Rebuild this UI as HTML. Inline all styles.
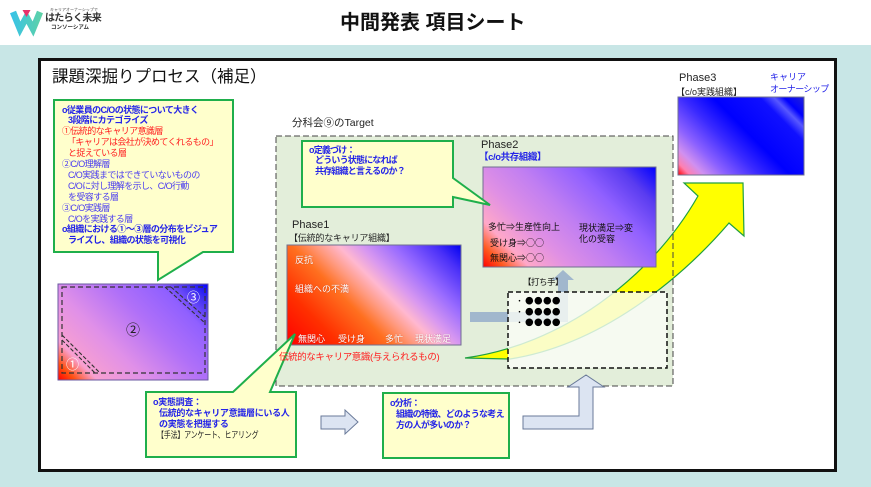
<!DOCTYPE html>
<html><head><meta charset="utf-8">
<style>
*{margin:0;padding:0;box-sizing:border-box}
html,body{width:871px;height:487px;overflow:hidden;background:#fff}
body{position:relative;font-family:"Liberation Sans","Noto Sans CJK JP",sans-serif;color:#1a1a1a}
.t{position:absolute;white-space:nowrap;line-height:1}
.b{color:#2424e8;font-weight:bold}
.r{color:#ff2020}
.p{color:#4a3cf0}
.w{color:#fff;text-shadow:0 0 1px rgba(120,0,0,.5)}
.c{font-family:"Noto Sans CJK JP",sans-serif}
</style></head><body>
<div style="position:absolute;left:0;top:45px;width:871px;height:442px;background:#c8e6e6"></div>
<div style="position:absolute;left:38px;top:58px;width:799px;height:414px;background:#fff;border:3px solid #111"></div>

<svg width="871" height="487" style="position:absolute;left:0;top:0">
<defs>
 <linearGradient id="lg" gradientUnits="userSpaceOnUse" x1="10" y1="0" x2="43" y2="0">
  <stop offset="0" stop-color="#36c2ea"/><stop offset="1" stop-color="#5fd2a4"/>
 </linearGradient>
 <linearGradient id="g1" gradientUnits="userSpaceOnUse" x1="305.5" y1="363.5" x2="442.5" y2="226.5">
  <stop offset="0" stop-color="#ff0000"/>
  <stop offset="0.2" stop-color="#ff3000"/>
  <stop offset="0.38" stop-color="#ff7020"/>
  <stop offset="0.47" stop-color="#ff9a80"/>
  <stop offset="0.55" stop-color="#ffb8d0"/>
  <stop offset="0.63" stop-color="#d898f0"/>
  <stop offset="0.75" stop-color="#9a6cff"/>
  <stop offset="0.9" stop-color="#4a30f8"/>
  <stop offset="1" stop-color="#0000f0"/>
 </linearGradient>
 <linearGradient id="g2" gradientUnits="userSpaceOnUse" x1="501.25" y1="285.25" x2="637.75" y2="148.75">
  <stop offset="0" stop-color="#ff0000"/>
  <stop offset="0.08" stop-color="#ff5a20"/>
  <stop offset="0.17" stop-color="#ffa8c8"/>
  <stop offset="0.32" stop-color="#e090e4"/>
  <stop offset="0.5" stop-color="#c07ef2"/>
  <stop offset="0.7" stop-color="#9060ff"/>
  <stop offset="0.86" stop-color="#5a3cf0"/>
  <stop offset="1" stop-color="#0000ff"/>
 </linearGradient>
 <linearGradient id="g3" gradientUnits="userSpaceOnUse" x1="690" y1="187" x2="792" y2="85">
  <stop offset="0" stop-color="#ff0000"/>
  <stop offset="0.06" stop-color="#ff80b0"/>
  <stop offset="0.13" stop-color="#d090f0"/>
  <stop offset="0.24" stop-color="#8a60ff"/>
  <stop offset="0.4" stop-color="#3a2aff"/>
  <stop offset="0.55" stop-color="#0000ff"/>
  <stop offset="0.78" stop-color="#1010ff"/>
  <stop offset="0.85" stop-color="#5858ff"/>
  <stop offset="0.9" stop-color="#0000ff"/>
  <stop offset="1" stop-color="#2424d8"/>
 </linearGradient>
 <linearGradient id="g4" gradientUnits="userSpaceOnUse" x1="71.5" y1="393.5" x2="194.5" y2="270.5">
  <stop offset="0" stop-color="#ff0000"/>
  <stop offset="0.07" stop-color="#ff5010"/>
  <stop offset="0.16" stop-color="#f8a0d0"/>
  <stop offset="0.36" stop-color="#e090e8"/>
  <stop offset="0.6" stop-color="#b070f8"/>
  <stop offset="0.8" stop-color="#9060ff"/>
  <stop offset="0.92" stop-color="#4030f0"/>
  <stop offset="1" stop-color="#0000ff"/>
 </linearGradient>
</defs>

<!-- logo -->
<polyline points="13,12 20,29 26.5,17 33,29 40,12" fill="none" stroke="url(#lg)" stroke-width="6.5" stroke-linejoin="miter"/>
<polygon points="22.5,10 30.5,10 26.5,17" fill="#e8306a"/>

<!-- green target region -->
<rect x="276" y="136" width="397" height="250" fill="#e3eeda"/>

<!-- left callout -->
<path d="M54,100 H233 V252 H203 L158,280 V252 H54 Z" fill="#ffffcc" stroke="#1faf4b" stroke-width="2"/>

<!-- left square -->
<rect x="58" y="284" width="150" height="96" fill="url(#g4)" stroke="#6a5aa0" stroke-width="1"/>
<rect x="62" y="287" width="143" height="86" fill="none" stroke="#333" stroke-width="1.2" stroke-dasharray="5,3"/>
<line x1="62" y1="335" x2="100" y2="373" stroke="#333" stroke-width="1.1" stroke-dasharray="4,2"/>
<line x1="62" y1="340" x2="95" y2="373" stroke="#333" stroke-width="1.1" stroke-dasharray="4,2"/>
<line x1="165" y1="287" x2="205" y2="323" stroke="#333" stroke-width="1.1" stroke-dasharray="4,2"/>
<line x1="171" y1="287" x2="205" y2="317" stroke="#333" stroke-width="1.1" stroke-dasharray="4,2"/>

<!-- yellow curved arrow -->
<path d="M465,358 C560,345 650,280 698,196 L684,183 L743,183 L744,236 L729,223 C680,280 600,345 510,359 Z" fill="#ffff00" stroke="#20a040" stroke-width="1.2"/>

<!-- region border -->
<rect x="276" y="136" width="397" height="250" fill="none" stroke="#444" stroke-width="1" stroke-dasharray="6,3"/>

<!-- phase boxes -->
<rect x="287" y="245" width="174" height="100" fill="url(#g1)" stroke="#707090" stroke-width="1"/>
<rect x="483" y="167" width="173" height="100" fill="url(#g2)" stroke="#707090" stroke-width="1"/>
<rect x="678" y="97" width="126" height="78" fill="url(#g3)" stroke="#707090" stroke-width="1"/>

<!-- gray-blue arrow -->
<path d="M470,312 H558 V280 H552 L563,270 L574,280 H568 V322 H470 Z" fill="#9bb2cc" opacity="0.92"/>

<!-- hands box -->
<rect x="508" y="292" width="159" height="76" fill="rgba(250,252,246,0.8)" stroke="#111" stroke-width="1.5" stroke-dasharray="5,3"/>
<g fill="#000">
 <circle cx="529.3" cy="300.7" r="3.8"/><circle cx="538.3" cy="300.7" r="3.8"/><circle cx="547.3" cy="300.7" r="3.8"/><circle cx="556.2" cy="300.7" r="3.8"/>
 <circle cx="529.3" cy="311.7" r="3.8"/><circle cx="538.3" cy="311.7" r="3.8"/><circle cx="547.3" cy="311.7" r="3.8"/><circle cx="556.2" cy="311.7" r="3.8"/>
 <circle cx="529.3" cy="322.3" r="3.8"/><circle cx="538.3" cy="322.3" r="3.8"/><circle cx="547.3" cy="322.3" r="3.8"/><circle cx="556.2" cy="322.3" r="3.8"/>
 <circle cx="519.5" cy="300.7" r="0.8"/><circle cx="519.5" cy="311.7" r="0.8"/><circle cx="519.5" cy="322.3" r="0.8"/>
</g>

<!-- center callout -->
<path d="M302,141 H453 V178 L490,205 L453,197 V207 H302 Z" fill="#ffffcc" stroke="#1faf4b" stroke-width="2"/>

<!-- bottom callouts -->
<path d="M146,392 H233 L295,334 L270,392 H296 V457 H146 Z" fill="#ffffcc" stroke="#1faf4b" stroke-width="2"/>
<rect x="383" y="393" width="126" height="65" fill="#ffffcc" stroke="#1faf4b" stroke-width="2"/>

<!-- block arrows -->
<path d="M321,416 H345 V410 L358,422 L345,434 V429 H321 Z" fill="#dce4f2" stroke="#6a7a99" stroke-width="1"/>
<path d="M523,416 H579 V387 H568 L586,375 L604,387 H593 V429 H523 Z" fill="#dce4f2" stroke="#6a7a99" stroke-width="1"/>
</svg>

<!-- header texts -->
<div class="t" style="left:50px;top:8px;font-size:8px;transform:scale(0.5);transform-origin:left top;color:#444">キャリアオーナーシップで</div>
<div class="t" style="left:45px;top:14px;font-size:10px;font-weight:bold;letter-spacing:-0.6px;color:#333">はたらく未来</div>
<div class="t" style="left:51px;top:26px;font-size:5.5px;font-weight:bold;color:#333">コンソーシアム</div>
<div class="t" style="left:340px;top:12.5px;font-size:20px;font-weight:bold;color:#111">中間発表 項目シート</div>

<div class="t" style="left:52px;top:68.5px;font-size:16.5px;color:#111">課題深掘りプロセス（補足）</div>

<!-- left callout text -->
<div class="t" style="left:62px;top:104.5px;font-size:9px;line-height:10.9px;letter-spacing:-0.6px">
 <div class="b">o従業員のC/Oの状態について大きく</div>
 <div class="b" style="padding-left:6px">3段階にカテゴライズ</div>
 <div class="r">①伝統的なキャリア意識層</div>
 <div class="r" style="padding-left:5px">「キャリアは会社が決めてくれるもの」</div>
 <div class="r" style="padding-left:6px">と捉えている層</div>
 <div class="p">②C/O理解層</div>
 <div class="p" style="padding-left:6px">C/O実践まではできていないものの</div>
 <div class="p" style="padding-left:6px">C/Oに対し理解を示し、C/O行動</div>
 <div class="p" style="padding-left:6px">を受容する層</div>
 <div class="p">③C/O実践層</div>
 <div class="p" style="padding-left:6px">C/Oを実践する層</div>
 <div class="b">o組織における①～③層の分布をビジュア</div>
 <div class="b" style="padding-left:6px">ライズし、組織の状態を可視化</div>
</div>

<!-- square numbers -->
<div class="t" style="left:66px;top:358px;font-size:13px;color:#fff">①</div>
<div class="t" style="left:126px;top:323px;font-size:14px;color:#222">②</div>
<div class="t" style="left:187px;top:291px;font-size:13px;color:#fff">③</div>

<div class="t" style="left:292px;top:118px;font-size:10.5px;color:#222">分科会⑨のTarget</div>

<!-- center callout text -->
<div class="t b" style="left:309px;top:144.6px;font-size:9px;line-height:10.85px;letter-spacing:-0.8px">
 <div>o定義づけ：</div>
 <div style="padding-left:6px">どういう状態になれば</div>
 <div style="padding-left:6px">共存組織と言えるのか？</div>
</div>

<!-- phase2 -->
<div class="t" style="left:481px;top:139.5px;font-size:11px;color:#222">Phase2</div>
<div class="t b" style="left:479px;top:153px;font-size:9.5px;letter-spacing:-0.4px">【c/o共存組織】</div>
<div class="t" style="left:488px;top:222.5px;font-size:9px;color:#111">多忙⇒生産性向上</div>
<div class="t" style="left:490px;top:237.5px;font-size:9px;color:#111">受け身⇒<span class="c">○○</span></div>
<div class="t" style="left:490px;top:252.5px;font-size:9px;color:#111">無関心⇒<span class="c">○○</span></div>
<div class="t" style="left:579px;top:222.5px;font-size:9px;line-height:11px;color:#111">現状満足⇒変<br>化の受容</div>

<!-- phase1 -->
<div class="t" style="left:292px;top:219.5px;font-size:11px;color:#222">Phase1</div>
<div class="t" style="left:289px;top:233.5px;font-size:9px;letter-spacing:-0.2px;color:#222">【伝統的なキャリア組織】</div>
<div class="t w" style="left:295px;top:255.5px;font-size:9px">反抗</div>
<div class="t w" style="left:295px;top:284.5px;font-size:9px">組織への不満</div>
<div class="t w" style="left:298px;top:334.5px;font-size:9px">無関心</div>
<div class="t w" style="left:338px;top:334.5px;font-size:9px">受け身</div>
<div class="t w" style="left:385px;top:334.5px;font-size:9px">多忙</div>
<div class="t w" style="left:415px;top:334.5px;font-size:9px">現状満足</div>
<div class="t r" style="left:279px;top:353.2px;font-size:9.5px;letter-spacing:-0.4px">伝統的なキャリア意識(与えられるもの)</div>

<div class="t" style="left:523px;top:277.7px;font-size:8.5px;letter-spacing:-0.5px;color:#111">【打ち手】</div>

<!-- phase3 -->
<div class="t" style="left:679px;top:72.5px;font-size:11px;color:#222">Phase3</div>
<div class="t" style="left:676px;top:87.5px;font-size:9px;color:#222">【c/o実践組織】</div>
<div class="t" style="left:770px;top:72.5px;font-size:9px;color:#2424e8">キャリア</div>
<div class="t" style="left:770px;top:84.5px;font-size:9px;letter-spacing:-0.6px;color:#2424e8">オーナーシップ</div>

<!-- bottom callout texts -->
<div class="t" style="left:153px;top:396.5px;font-size:9px;line-height:11px;letter-spacing:-0.3px">
 <div class="b">o実態調査：</div>
 <div class="b" style="padding-left:6px">伝統的なキャリア意識層にいる人</div>
 <div class="b" style="padding-left:6px">の実態を把握する</div>
 <div style="padding-left:4px;color:#222"><span style="display:inline-block;transform:scaleX(0.78);transform-origin:left center">【手法】アンケート、ヒアリング</span></div>
</div>
<div class="t" style="left:390px;top:397.5px;font-size:9px;line-height:11px;letter-spacing:-0.7px">
 <div class="b">o分析：</div>
 <div class="b" style="padding-left:6px">組織の特徴、どのような考え</div>
 <div class="b" style="padding-left:6px">方の人が多いのか？</div>
</div>
</body></html>
